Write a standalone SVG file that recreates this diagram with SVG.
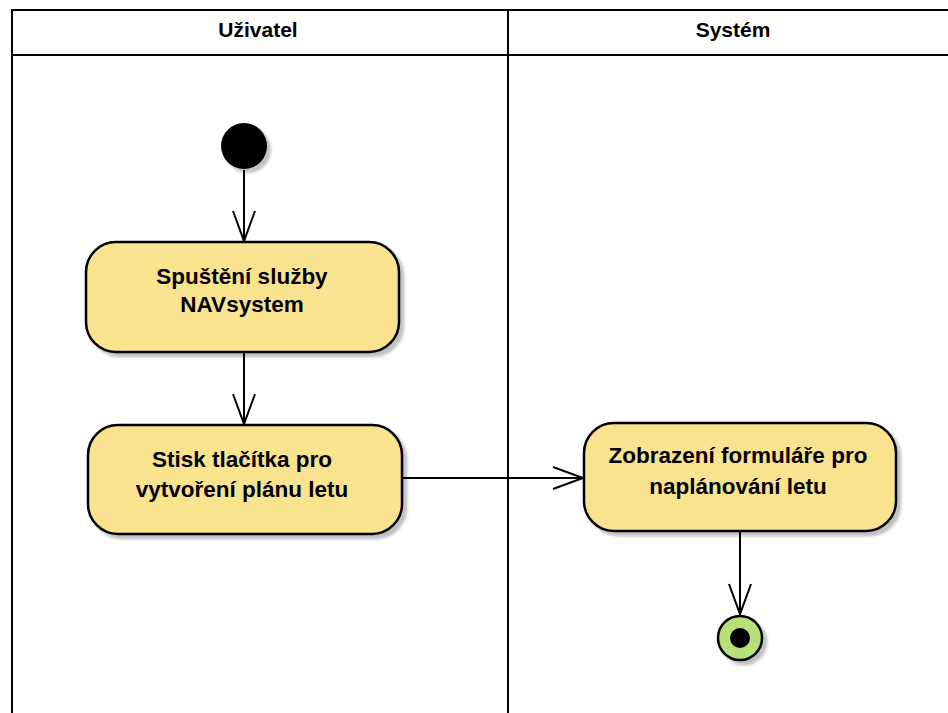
<svg xmlns="http://www.w3.org/2000/svg" width="948" height="713" viewBox="0 0 948 713">
  <defs>
    <filter id="shadow" x="-10%" y="-10%" width="130%" height="130%">
      <feGaussianBlur in="SourceAlpha" stdDeviation="1.5"/>
      <feOffset dx="4" dy="4" result="o"/>
      <feComponentTransfer><feFuncA type="linear" slope="0.25"/></feComponentTransfer>
      <feMerge><feMergeNode/><feMergeNode in="SourceGraphic"/></feMerge>
    </filter>
  </defs>
  <style>
    .lane { fill: none; stroke: #000; stroke-width: 2; }
    .head { font-family: "Liberation Sans", Arial, sans-serif; font-weight: bold; font-size: 21px; fill: #000; text-anchor: middle; }
    .act { fill: #f9e38e; stroke: #000; stroke-width: 2.5; filter: url(#shadow); }
    .lbl { font-family: "Liberation Sans", Arial, sans-serif; font-weight: bold; font-size: 22.5px; fill: #000; text-anchor: middle; }
    .edge { fill: none; stroke: #000; stroke-width: 2; }
  </style>
  <rect width="948" height="713" fill="#fff"/>

  <!-- swimlanes -->
  <g id="lanes">
    <path class="lane" d="M12,720 V10 H960 M12,55 H960 M508,10 V720"/>
    <text class="head" x="258" y="37">Uživatel</text>
    <text class="head" x="733" y="37">Systém</text>
  </g>

  <!-- connectors -->
  <g id="connectors">
    <path class="edge" d="M244,170 V241 M233,211 L244,241 L255,211"/>
    <path class="edge" d="M244,352 V424 M233,394 L244,424 L255,394"/>
    <path class="edge" d="M402,478 H583 M553,467 L583,478 L553,489"/>
    <path class="edge" d="M740,532 V614 M729,584 L740,614 L751,584"/>
  </g>

  <g id="start">
    <circle cx="244" cy="146" r="23" fill="#000" filter="url(#shadow)"/>
  </g>

  <g id="spusteni">
    <rect class="act" x="86" y="242" width="313" height="110" rx="30"/>
    <text class="lbl" x="242" y="284">Spuštění služby</text>
    <text class="lbl" x="242" y="312">NAVsystem</text>
  </g>

  <g id="stisk">
    <rect class="act" x="88" y="425" width="314" height="109" rx="30"/>
    <text class="lbl" x="242" y="467">Stisk tlačítka pro</text>
    <text class="lbl" x="242" y="497">vytvoření plánu letu</text>
  </g>

  <g id="zobrazeni">
    <rect class="act" x="584" y="423" width="312" height="108" rx="30"/>
    <text class="lbl" x="738" y="463">Zobrazení formuláře pro</text>
    <text class="lbl" x="738" y="494">naplánování letu</text>
  </g>

  <g id="end">
    <circle cx="740" cy="638" r="22" fill="#b7e07a" stroke="#000" stroke-width="2.5" filter="url(#shadow)"/>
    <circle cx="740" cy="638" r="10" fill="#000"/>
  </g>
</svg>
